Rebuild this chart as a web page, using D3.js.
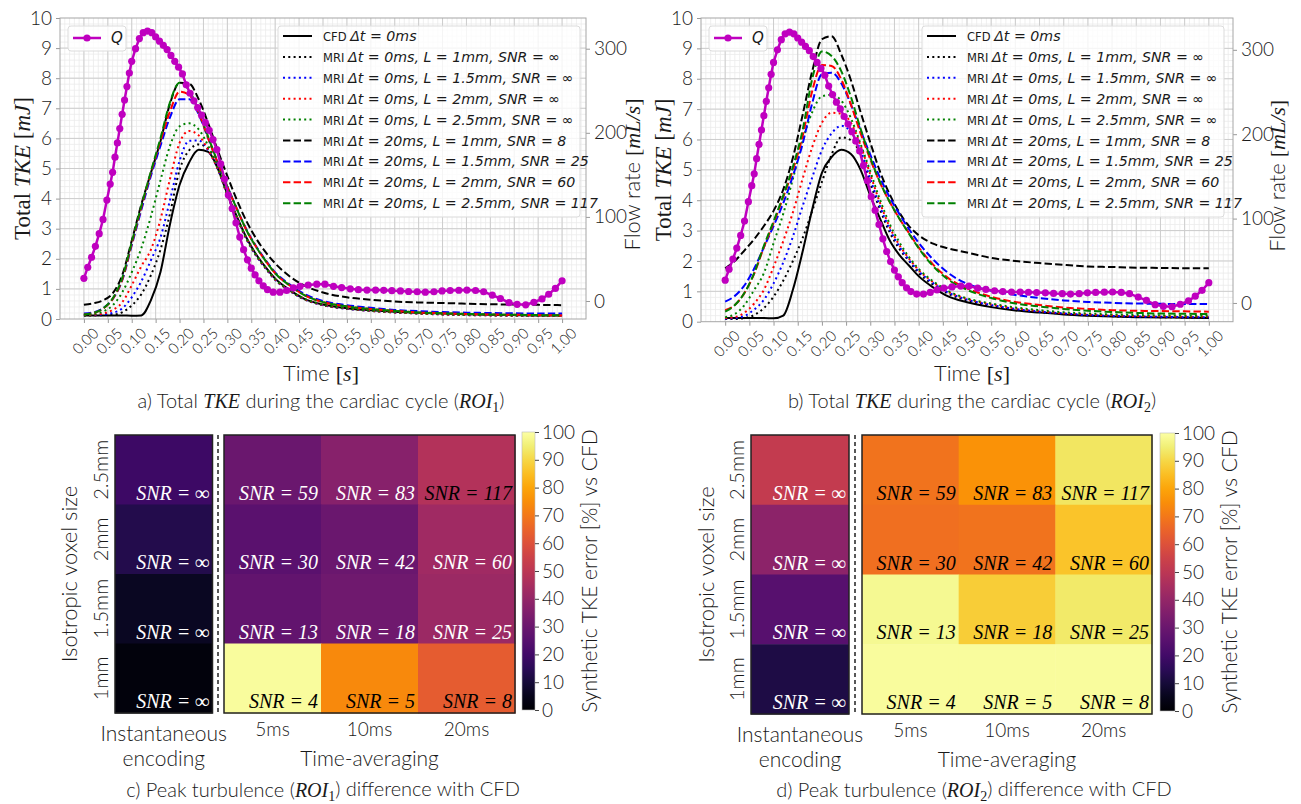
<!DOCTYPE html>
<meta charset="utf-8">
<style>
body { margin: 0; background: #fff; }
svg text { font-family: Lato, "Open Sans", sans-serif; fill: #1a1a1a; }
.lt { font-weight: 300; }
.it { font-family: "Liberation Serif", serif; font-style: italic; }
.grid-minor line { stroke: #ebebeb; stroke-width: 0.8; }
.grid-major line { stroke: #cdcdcd; stroke-width: 1; }
.ax path { display: none; }
.ax line { stroke: #999; }
</style>
<body>
<div id="fig"></div>
<script src="https://cdn.jsdelivr.net/npm/d3@7"></script>
<script>
// ---------- data ----------
var T = [0, .02, .04, .06, .08, .10, .12, .14, .16, .18, .20, .22, .24, .26, .28, .30, .32, .34, .36, .38, .40, .43, .46, .50, .55, .60, .65, .70, .75, .80, .85, .90, .95, 1.00];

// ROI1 total TKE [mJ]
var roi1_cfd   = [.12,.12,.12,.12,.12,.11,.12,.62,1.55,3.15,4.45,5.2,5.62,5.55,5.0,4.15,3.4,2.7,2.15,1.72,1.34,.97,.68,.48,.36,.29,.24,.21,.18,.16,.14,.13,.12,.12];
var roi1_k_dot = [.12,.12,.13,.14,.22,.45,.82,1.45,2.3,3.5,4.95,5.6,5.8,5.65,5.02,4.12,3.36,2.66,2.11,1.69,1.31,.94,.66,.46,.34,.27,.22,.19,.16,.14,.13,.12,.11,.11];
var roi1_b_dot = [.13,.13,.15,.2,.35,.72,1.25,1.95,2.7,3.95,5.25,5.92,5.93,5.6,4.98,4.12,3.36,2.66,2.11,1.68,1.3,.94,.66,.46,.34,.27,.22,.18,.15,.13,.12,.11,.11,.1];
var roi1_r_dot = [.13,.14,.18,.3,.55,1.12,1.75,2.3,3.3,4.65,5.85,6.25,6.1,5.62,4.98,4.13,3.37,2.67,2.12,1.69,1.31,.95,.67,.47,.35,.27,.22,.18,.15,.13,.12,.11,.11,.1];
var roi1_g_dot = [.13,.16,.25,.45,.88,1.55,2.35,3.4,4.6,5.75,6.4,6.5,6.3,5.75,5.02,4.15,3.38,2.68,2.13,1.7,1.32,.96,.68,.48,.36,.28,.23,.19,.16,.14,.13,.12,.12,.11];
var roi1_k_dash = [.47,.52,.62,.85,1.45,2.6,3.8,4.85,5.9,7.15,7.85,7.82,7.3,6.5,5.6,4.75,3.95,3.25,2.68,2.22,1.85,1.42,1.12,.88,.72,.64,.58,.55,.53,.51,.49,.48,.47,.46];
var roi1_b_dash = [.18,.22,.36,.66,1.28,2.45,3.62,4.75,5.75,6.7,7.3,7.3,6.8,6.0,5.18,4.4,3.66,2.97,2.42,1.96,1.55,1.15,.84,.6,.46,.37,.3,.26,.23,.21,.2,.19,.18,.18];
var roi1_r_dash = [.15,.2,.34,.66,1.3,2.5,3.7,4.85,5.9,6.9,7.55,7.45,6.85,6.0,5.18,4.38,3.65,2.95,2.4,1.93,1.52,1.12,.8,.56,.42,.33,.27,.22,.19,.17,.15,.14,.13,.12];
var roi1_g_dash = [.15,.2,.35,.68,1.35,2.55,3.75,4.9,6.0,7.2,7.85,7.6,6.9,6.05,5.2,4.4,3.65,2.95,2.4,1.93,1.52,1.12,.8,.56,.42,.33,.27,.22,.19,.17,.15,.14,.13,.12];

// ROI2 total TKE [mJ]
var roi2_cfd   = [.12,.12,.12,.12,.12,.11,.2,1.05,2.3,3.7,4.9,5.42,5.66,5.52,5.0,4.15,3.4,2.68,2.2,1.85,1.5,1.13,.84,.64,.48,.37,.3,.24,.2,.17,.15,.14,.13,.12];
var roi2_k_dot = [.09,.09,.12,.22,.45,.82,1.35,2.0,2.75,3.65,4.6,5.5,6.07,5.98,5.5,4.55,3.7,2.95,2.4,2.0,1.6,1.22,.93,.7,.52,.4,.32,.26,.21,.18,.16,.15,.14,.13];
var roi2_b_dot = [.1,.12,.19,.4,.72,1.26,1.95,2.8,3.8,4.75,5.65,6.2,6.45,6.25,5.65,4.7,3.8,3.05,2.48,2.03,1.66,1.27,.97,.73,.55,.42,.33,.27,.22,.19,.17,.16,.15,.15];
var roi2_r_dot = [.12,.15,.3,.6,1.05,1.8,2.65,3.6,4.7,5.75,6.55,6.88,6.85,6.55,5.8,4.85,3.92,3.12,2.53,2.08,1.7,1.3,.99,.75,.57,.44,.35,.28,.24,.21,.19,.18,.17,.17];
var roi2_g_dot = [.15,.25,.55,1.05,1.6,2.58,3.55,4.7,5.95,6.9,7.42,7.47,7.28,6.7,5.85,4.95,4.02,3.22,2.62,2.13,1.74,1.33,1.02,.77,.6,.47,.38,.31,.27,.24,.22,.21,.2,.2];
var roi2_k_dash = [1.76,2.0,2.35,2.72,3.15,3.65,4.35,5.4,6.8,8.25,9.3,9.4,8.8,7.95,6.9,5.9,4.95,4.2,3.6,3.15,2.85,2.57,2.42,2.28,2.1,2.0,1.93,1.87,1.82,1.8,1.78,1.77,1.76,1.76];
var roi2_b_dash = [.66,.85,1.2,1.75,2.45,3.15,3.9,4.8,5.85,7.2,8.15,8.2,7.85,7.15,6.3,5.5,4.75,4.1,3.55,3.05,2.6,2.05,1.62,1.25,1.02,.88,.78,.7,.65,.62,.6,.59,.58,.58];
var roi2_r_dash = [.38,.55,.95,1.58,2.45,3.25,4.1,5.0,6.1,7.6,8.45,8.42,7.98,7.15,6.2,5.35,4.58,3.95,3.4,2.92,2.45,1.88,1.45,1.1,.82,.65,.55,.47,.42,.38,.36,.35,.34,.33];
var roi2_g_dash = [.33,.55,.95,1.6,2.5,3.3,4.15,5.1,6.3,8.0,8.9,8.75,8.25,7.4,6.35,5.4,4.6,3.95,3.4,2.9,2.42,1.83,1.4,1.05,.78,.6,.5,.42,.36,.32,.29,.27,.26,.25];

// flow rate Q [mL/s]
var q_t = [0,.008,.016,.024,.032,.040,.048,.055,.060,.065,.070,.075,.080,.085,.090,.095,.100,.108,.116,.124,.133,.142,.150,.158,.166,.174,.182,.190,.198,.206,.214,.222,.230,.238,.246,.254,.262,.270,.278,.286,.294,.302,.310,.318,.326,.334,.342,.350,.358,.366,.375,.384,.396,.410,.424,.438,.452,.469,.487,.504,.522,.539,.557,.574,.592,.610,.627,.644,.662,.679,.697,.714,.732,.749,.766,.784,.801,.819,.836,.854,.871,.889,.906,.924,.941,.958,.972,.986,1.0];
var q_v = [27,40,52,65,80,97,120,139,153,171,188,205,222,239,255,271,285,300,312,319,321,319,314,309,304,299,292,285,278,270,257,247,238,230,221,212,203,192,180,163,145,126,110,93,76,61,49,39,31,24,18,13.5,10.5,10.5,12.5,15.5,17.5,19,20,20,17.5,16,14.5,13.5,13,13,12.7,12.3,12,11.3,11,10.5,11,12,12.5,12.8,13,12.5,11,7,3,-2,-4,-4.5,-1.5,2.5,8,15,24];

var xTicks = d3.range(0, 21).map(function(i) { return i * 0.05; });
var qTicks = [0, 100, 200, 300];

var legendLabels = [
  ["CFD", "\u0394t = 0ms"],
  ["MRI", "\u0394t = 0ms, L = 1mm, SNR = \u221e"],
  ["MRI", "\u0394t = 0ms, L = 1.5mm, SNR = \u221e"],
  ["MRI", "\u0394t = 0ms, L = 2mm, SNR = \u221e"],
  ["MRI", "\u0394t = 0ms, L = 2.5mm, SNR = \u221e"],
  ["MRI", "\u0394t = 20ms, L = 1mm, SNR = 8"],
  ["MRI", "\u0394t = 20ms, L = 1.5mm, SNR = 25"],
  ["MRI", "\u0394t = 20ms, L = 2mm, SNR = 60"],
  ["MRI", "\u0394t = 20ms, L = 2.5mm, SNR = 117"]
];

// heatmaps: peak TKE error [%] vs CFD
var voxelSizes = ["2.5mm", "2mm", "1.5mm", "1mm"];
var avgLabels = ["5ms", "10ms", "20ms"];
var snrAvg = [[59, 83, 117], [30, 42, 60], [13, 18, 25], [4, 5, 8]];
var roi1_inst = [19, 13, 6, 2];
var roi1_avg = [[30, 37, 48], [26, 30, 43], [28, 31, 42], [99, 74, 63]];
var roi2_inst = [52, 38, 25, 12];
var roi2_avg = [[69, 76, 93], [68, 69, 86], [98, 88, 94], [99, 99, 99]];
var cbTicks = d3.range(0, 101, 10);

// ---------- drawing ----------
var svg = d3.select("#fig").append("svg").attr("width", 1301).attr("height", 804);
var SERIF = "'Liberation Serif', serif";

var lineStyles = [
  {color: "#000", dash: null},
  {color: "#000", dash: "2,3.3"},
  {color: "#0000ff", dash: "2,3.3"},
  {color: "#ff0000", dash: "2,3.3"},
  {color: "#008000", dash: "2,3.3"},
  {color: "#000", dash: "7.4,3.2"},
  {color: "#0000ff", dash: "7.4,3.2"},
  {color: "#ff0000", dash: "7.4,3.2"},
  {color: "#008000", dash: "7.4,3.2"}
];

function sans(sel, txt) {
  return sel.append("tspan").attr("class", "lt").text(txt);
}
function serif(sel, txt, italic) {
  return sel.append("tspan").style("font-family", SERIF)
    .style("font-style", italic ? "italic" : "normal").text(txt);
}
function roiText(sel, pre, sub, post) {
  sans(sel, pre);
  serif(sel, "ROI", true);
  serif(sel, sub, false).attr("font-size", "0.7em").attr("dy", "0.25em");
  sans(sel, post).attr("dy", "-0.25em");
}

function lineChart(p) {
  var g = svg.append("g");
  var x = d3.scaleLinear().domain([-0.05, 1.05]).range([p.left, p.right]);
  var y = d3.scaleLinear().domain([0, 10]).range([p.bottom, p.top]);
  var yq = d3.scaleLinear().domain(p.qDomain).range([p.bottom, p.top]);

  svg.append("clipPath").attr("id", "clip" + p.id).append("rect")
    .attr("x", p.left).attr("y", p.top)
    .attr("width", p.right - p.left).attr("height", p.bottom - p.top);

  var gm = g.append("g").attr("class", "grid-minor");
  gm.selectAll(".mx").data(d3.range(-4, 105).map(function(i) { return i / 100; }))
    .join("line").attr("class", "mx")
    .attr("x1", function(d) { return x(d); }).attr("x2", function(d) { return x(d); })
    .attr("y1", p.top).attr("y2", p.bottom);
  gm.selectAll(".my").data(d3.range(1, 50).map(function(i) { return i / 5; }))
    .join("line").attr("class", "my")
    .attr("y1", function(d) { return y(d); }).attr("y2", function(d) { return y(d); })
    .attr("x1", p.left).attr("x2", p.right);

  var gM = g.append("g").attr("class", "grid-major");
  gM.selectAll(".Mx").data(xTicks).join("line").attr("class", "Mx")
    .attr("x1", function(d) { return x(d); }).attr("x2", function(d) { return x(d); })
    .attr("y1", p.top).attr("y2", p.bottom);
  gM.selectAll(".My").data(d3.range(1, 10)).join("line").attr("class", "My")
    .attr("y1", function(d) { return y(d); }).attr("y2", function(d) { return y(d); })
    .attr("x1", p.left).attr("x2", p.right);

  // axes
  var ya = g.append("g").attr("class", "ax").attr("transform", "translate(" + p.left + ",0)")
    .call(d3.axisLeft(y).ticks(10).tickSize(4).tickPadding(4));
  ya.selectAll("text").attr("class", "lt").style("font-size", "19px");

  var xa = g.append("g").attr("class", "ax").attr("transform", "translate(0," + p.bottom + ")")
    .call(d3.axisBottom(x).tickValues(xTicks).tickFormat(d3.format(".2f")).tickSize(4));
  xa.selectAll("text").attr("class", "lt").attr("y", 0).attr("dy", "0.35em")
    .attr("transform", "translate(1,22) rotate(-45)")
    .style("text-anchor", "middle").style("font-size", "15px");

  var qa = g.append("g").attr("class", "ax").attr("transform", "translate(" + p.right + ",0)")
    .call(d3.axisRight(yq).tickValues(qTicks).tickSize(4).tickPadding(4));
  qa.selectAll("text").attr("class", "lt").style("font-size", "19px");

  // TKE series
  var line = d3.line()
    .x(function(d) { return x(d[0]); })
    .y(function(d) { return y(d[1]); })
    .curve(d3.curveMonotoneX);
  var lines = g.append("g").attr("clip-path", "url(#clip" + p.id + ")");
  p.series.forEach(function(vals, k) {
    lines.append("path")
      .datum(T.map(function(t, i) { return [t, vals[i]]; }))
      .attr("fill", "none")
      .attr("stroke", lineStyles[k].color)
      .attr("stroke-width", 2)
      .attr("stroke-dasharray", lineStyles[k].dash)
      .attr("d", line);
  });

  // Q on twin axis
  var qdata = q_t.map(function(t, i) { return [t, q_v[i]]; });
  var qline = d3.line()
    .x(function(d) { return x(d[0]); })
    .y(function(d) { return yq(d[1]); });
  lines.append("path").datum(qdata)
    .attr("fill", "none").attr("stroke", "#bf00bf").attr("stroke-width", 2.5)
    .attr("d", qline);
  lines.selectAll(".qm").data(qdata).join("circle").attr("class", "qm")
    .attr("cx", function(d) { return x(d[0]); })
    .attr("cy", function(d) { return yq(d[1]); })
    .attr("r", 3.6).attr("fill", "#bf00bf");

  // frame
  g.append("rect").attr("x", p.left).attr("y", p.top)
    .attr("width", p.right - p.left).attr("height", p.bottom - p.top)
    .attr("fill", "none").attr("stroke", "#a6a6a6").attr("stroke-width", 1);

  // Q legend
  var ql = g.append("g").attr("transform", "translate(" + p.qLeg[0] + "," + p.qLeg[1] + ")");
  ql.append("rect").attr("width", 58).attr("height", 25).attr("rx", 3)
    .attr("fill", "#fff").attr("fill-opacity", 0.8).attr("stroke", "#dcdcdc");
  ql.append("line").attr("x1", 5).attr("x2", 33).attr("y1", 12).attr("y2", 12)
    .attr("stroke", "#bf00bf").attr("stroke-width", 2.5);
  ql.append("circle").attr("cx", 19).attr("cy", 12).attr("r", 3.6).attr("fill", "#bf00bf");
  ql.append("text").attr("x", 43).attr("y", 17).style("font-family", "'DejaVu Sans'")
    .style("font-style", "italic").attr("font-size", "15px").text("Q");

  // main legend
  var lg = g.append("g").attr("transform", "translate(" + p.leg[0] + "," + p.leg[1] + ")");
  lg.append("rect").attr("width", 302).attr("height", 191).attr("rx", 3)
    .attr("fill", "#fff").attr("fill-opacity", 0.8).attr("stroke", "#dcdcdc");
  legendLabels.forEach(function(lab, k) {
    var yy = 10 + k * 20.9;
    lg.append("line").attr("x1", 5).attr("x2", 34).attr("y1", yy).attr("y2", yy)
      .attr("stroke", lineStyles[k].color).attr("stroke-width", 2)
      .attr("stroke-dasharray", lineStyles[k].dash);
    var t = lg.append("text").attr("x", 45).attr("y", yy + 5)
      .style("font-family", "'DejaVu Sans'");
    t.append("tspan").attr("font-size", "11.5px").text(lab[0] + " ");
    t.append("tspan").attr("font-size", "14.2px").style("font-style", "italic").text(lab[1]);
  });

  // labels
  var yl = g.append("text").attr("transform", "translate(" + p.ylabX + "," + (p.top + p.bottom) / 2 + ") rotate(-90)")
    .attr("text-anchor", "middle").attr("font-size", "23px");
  serif(yl, "Total ", false);
  serif(yl, "TKE", true);
  serif(yl, " [", false);
  serif(yl, "mJ", true);
  serif(yl, "]", false);

  var ql2 = g.append("text").attr("transform", "translate(" + p.qlabX + "," + ((p.top + p.bottom) / 2 + 6) + ") rotate(-90)")
    .attr("text-anchor", "middle").attr("font-size", "22px");
  sans(ql2, "Flow rate ");
  serif(ql2, "[", false);
  serif(ql2, "mL/s", true);
  serif(ql2, "]", false);

  var xl = g.append("text").attr("x", p.cx).attr("y", 381).attr("text-anchor", "middle").attr("font-size", "22px");
  sans(xl, "Time ");
  serif(xl, "[", false);
  serif(xl, "s", true);
  serif(xl, "]", false);

  var cap = g.append("text").attr("x", p.cx).attr("y", 408).attr("text-anchor", "middle").attr("font-size", "20px");
  sans(cap, p.letter + ") Total ");
  serif(cap, "TKE", true);
  roiText(cap, " during the cardiac cycle (", p.sub, ")");
}

lineChart({id: "a", left: 60, right: 586, top: 18, bottom: 319, qDomain: [-21.4, 336.5],
  series: [roi1_cfd, roi1_k_dot, roi1_b_dot, roi1_r_dot, roi1_g_dot, roi1_k_dash, roi1_b_dash, roi1_r_dash, roi1_g_dash],
  qLeg: [68, 26], leg: [278, 26], ylabX: 30, qlabX: 640, cx: 321, letter: "a", sub: "1"});
lineChart({id: "b", left: 701, right: 1233, top: 18, bottom: 321.7, qDomain: [-22.2, 337.7],
  series: [roi2_cfd, roi2_k_dot, roi2_b_dot, roi2_r_dot, roi2_g_dot, roi2_k_dash, roi2_b_dash, roi2_r_dash, roi2_g_dash],
  qLeg: [709, 26], leg: [922, 26], ylabX: 671, qlabX: 1285, cx: 972, letter: "b", sub: "2"});

function heatmap(p) {
  var g = svg.append("g");
  var color = d3.scaleSequential(d3.interpolateInferno).domain([0, 100]);
  var yb = d3.scaleBand().domain(voxelSizes).range([p.top, p.bottom]);
  var xl = d3.scaleBand().domain(["inst"]).range([p.l0, p.l1]);
  var xr = d3.scaleBand().domain(avgLabels).range([p.r0, p.r1]);

  // instantaneous panel
  g.selectAll(".ci").data(p.inst).join("rect").attr("class", "ci")
    .attr("x", xl("inst")).attr("width", xl.bandwidth())
    .attr("y", function(d, i) { return yb(voxelSizes[i]); }).attr("height", yb.bandwidth() + 0.5)
    .attr("fill", function(d) { return color(d); });
  g.selectAll(".ti").data(p.inst).join("text").attr("class", "ti it")
    .attr("x", xl("inst") + xl.bandwidth() - 3)
    .attr("y", function(d, i) { return yb(voxelSizes[i]) + yb.bandwidth() - 5; })
    .attr("text-anchor", "end").attr("font-size", "20px").style("fill", "#fff")
    .text("SNR = \u221e");

  // time-averaged panel
  var cells = [];
  p.avg.forEach(function(row, i) {
    row.forEach(function(v, j) { cells.push({r: i, c: j, v: v, snr: snrAvg[i][j]}); });
  });
  g.selectAll(".ca").data(cells).join("rect").attr("class", "ca")
    .attr("x", function(d) { return xr(avgLabels[d.c]); }).attr("width", xr.bandwidth() + 0.5)
    .attr("y", function(d) { return yb(voxelSizes[d.r]); }).attr("height", yb.bandwidth() + 0.5)
    .attr("fill", function(d) { return color(d.v); });
  g.selectAll(".ta").data(cells).join("text").attr("class", "ta it")
    .attr("x", function(d) { return xr(avgLabels[d.c]) + xr.bandwidth() - 3; })
    .attr("y", function(d) { return yb(voxelSizes[d.r]) + yb.bandwidth() - 5; })
    .attr("text-anchor", "end").attr("font-size", "20px")
    .style("fill", function(d) { return d.v >= 45 ? "#000" : "#fff"; })
    .text(function(d) { return "SNR = " + d.snr; });

  [[p.l0, p.l1], [p.r0, p.r1]].forEach(function(e) {
    g.append("rect").attr("x", e[0]).attr("y", p.top).attr("width", e[1] - e[0]).attr("height", p.bottom - p.top)
      .attr("fill", "none").attr("stroke", "#222").attr("stroke-width", 1.5);
  });
  g.append("line").attr("x1", p.sep).attr("x2", p.sep).attr("y1", p.top).attr("y2", p.bottom)
    .attr("stroke", "#222").attr("stroke-width", 1.5).attr("stroke-dasharray", "4,3");

  // y axis (voxel size)
  var ya = g.append("g").attr("class", "ax").attr("transform", "translate(" + p.l0 + ",0)")
    .call(d3.axisLeft(yb).tickSize(0));
  ya.selectAll("text").attr("class", "lt").attr("x", 0).attr("y", -7).attr("dy", 0)
    .attr("transform", "rotate(-90)").style("text-anchor", "middle").style("font-size", "20px");
  g.append("text").attr("class", "lt").attr("transform", "translate(" + p.yTitleX + "," + (p.top + p.bottom) / 2 + ") rotate(-90)")
    .attr("text-anchor", "middle").attr("font-size", "22px").text("Isotropic voxel size");

  // x labels
  var xa = g.append("g").attr("class", "ax").attr("transform", "translate(0," + p.bottom + ")")
    .call(d3.axisBottom(xr).tickSize(0).tickPadding(10));
  xa.selectAll("text").attr("class", "lt").style("font-size", "19px");
  var xc = (p.l0 + p.l1) / 2;
  g.append("text").attr("class", "lt").attr("x", xc).attr("y", p.bottom + 28).attr("text-anchor", "middle").attr("font-size", "21px").text("Instantaneous");
  g.append("text").attr("class", "lt").attr("x", xc).attr("y", p.bottom + 53).attr("text-anchor", "middle").attr("font-size", "21px").text("encoding");
  g.append("text").attr("class", "lt").attr("x", (p.r0 + p.r1) / 2).attr("y", p.bottom + 53).attr("text-anchor", "middle").attr("font-size", "21px").text("Time-averaging");

  var cap = g.append("text").attr("x", p.cx).attr("y", 797).attr("text-anchor", "middle").attr("font-size", "20px");
  roiText(cap, p.letter + ") Peak turbulence (", p.sub, ") difference with CFD");

  // colorbar
  var gid = "grad" + p.letter;
  var grad = svg.append("defs").append("linearGradient").attr("id", gid)
    .attr("x1", 0).attr("y1", 1).attr("x2", 0).attr("y2", 0);
  d3.range(0, 101, 5).forEach(function(v) {
    grad.append("stop").attr("offset", v + "%").attr("stop-color", color(v));
  });
  g.append("rect").attr("x", p.cb0).attr("y", p.cbTop).attr("width", p.cb1 - p.cb0).attr("height", p.cbBot - p.cbTop)
    .attr("fill", "url(#" + gid + ")").attr("stroke", "#bbb").attr("stroke-width", 0.6);
  var cbs = d3.scaleLinear().domain([0, 100]).range([p.cbBot, p.cbTop]);
  var ca = g.append("g").attr("class", "ax").attr("transform", "translate(" + p.cb1 + ",0)")
    .call(d3.axisRight(cbs).tickValues(cbTicks).tickSize(4).tickPadding(3));
  ca.selectAll("text").attr("class", "lt").style("font-size", "19px");
  ca.selectAll("line").style("stroke", "#444");
  g.append("text").attr("class", "lt").attr("transform", "translate(" + p.cbTitleX + "," + (p.cbTop + p.cbBot) / 2 + ") rotate(-90)")
    .attr("text-anchor", "middle").attr("font-size", "21px").text("Synthetic TKE error [%] vs CFD");
}

heatmap({letter: "c", sub: "1", inst: roi1_inst, avg: roi1_avg,
  top: 435, bottom: 713, l0: 115, l1: 212.5, sep: 218, r0: 224, r1: 515,
  cb0: 522, cb1: 535, cbTop: 432, cbBot: 710, cbTitleX: 597, yTitleX: 77, cx: 323});
heatmap({letter: "d", sub: "2", inst: roi2_inst, avg: roi2_avg,
  top: 435, bottom: 714, l0: 751, l1: 849, sep: 855, r0: 862, r1: 1152,
  cb0: 1160, cb1: 1175, cbTop: 433, cbBot: 711, cbTitleX: 1237, yTitleX: 714, cx: 974});
</script>
</body>
